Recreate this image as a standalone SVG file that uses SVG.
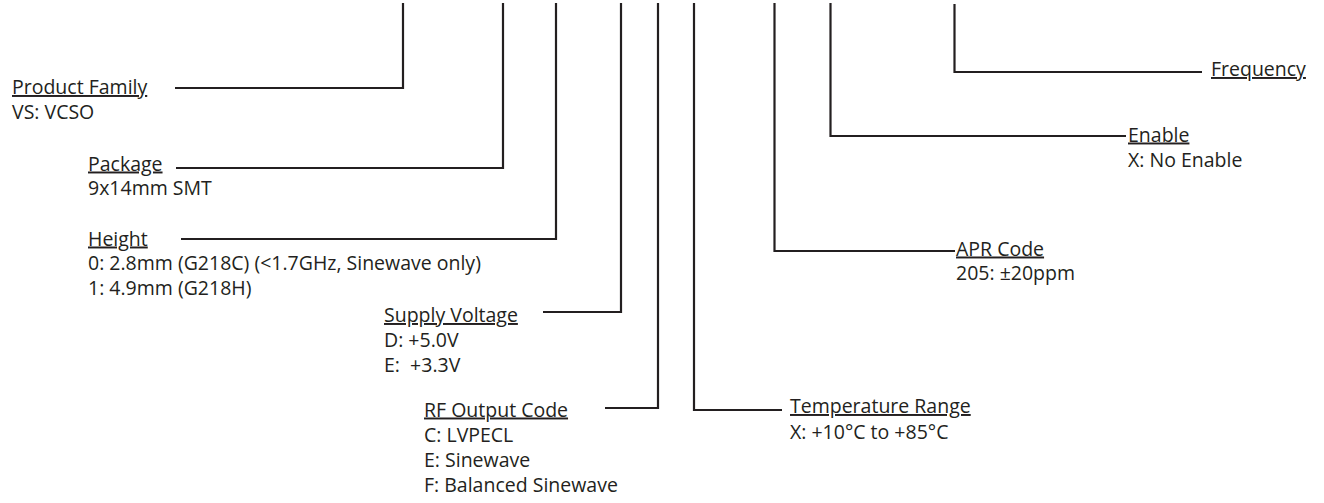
<svg xmlns="http://www.w3.org/2000/svg" width="1324" height="503" viewBox="0 0 1324 503">
<style>
text{font-family:"Open Sans","Liberation Sans",sans-serif;font-size:19.5px;fill:#231f20}
.h{text-decoration:underline}
.c{fill:none;stroke:#231f20;stroke-width:2.2}
</style>
<rect width="1324" height="503" fill="#fff"/>
<g id="connectors">
<path class="c" d="M175,88 H403 V3"/>
<path class="c" d="M176,168 H503 V3"/>
<path class="c" d="M181,239 H556 V3"/>
<path class="c" d="M543,312 H621 V3"/>
<path class="c" d="M605,408 H658 V3"/>
<path class="c" d="M694,3 V410 H782"/>
<path class="c" d="M774.5,3 V251 H955"/>
<path class="c" d="M830.5,3 V136 H1126"/>
<path class="c" d="M954.5,4 V72 H1202"/>
</g>
<g id="product-family"><text x="12" y="94"><tspan class="h">Product Family</tspan><tspan x="12" y="119">VS: VCSO</tspan></text></g>
<g id="package"><text x="88" y="170.5"><tspan class="h">Package</tspan><tspan x="88" y="195">9x14mm SMT</tspan></text></g>
<g id="height"><text x="88" y="245.5"><tspan class="h">Height</tspan><tspan x="88" y="270">0: 2.8mm (G218C) (&lt;1.7GHz, Sinewave only)</tspan><tspan x="88" y="294.5">1: 4.9mm (G218H)</tspan></text></g>
<g id="supply-voltage"><text x="384" y="322"><tspan class="h">Supply Voltage</tspan><tspan x="384" y="347">D: +5.0V</tspan><tspan x="384" y="371.5">E:&#160; +3.3V</tspan></text></g>
<g id="rf-output"><text x="424" y="416.5"><tspan class="h">RF Output Code</tspan><tspan x="424" y="442">C: LVPECL</tspan><tspan x="424" y="467">E: Sinewave</tspan><tspan x="424" y="492">F: Balanced Sinewave</tspan></text></g>
<g id="temperature"><text x="790" y="413"><tspan class="h">Temperature Range</tspan><tspan x="790" y="438.5">X: +10°C to +85°C</tspan></text></g>
<g id="apr"><text x="956" y="255.5"><tspan class="h">APR Code</tspan><tspan x="956" y="280">205: ±20ppm</tspan></text></g>
<g id="enable"><text x="1128" y="141.5"><tspan class="h">Enable</tspan><tspan x="1128" y="166.5">X: No Enable</tspan></text></g>
<g id="frequency"><text x="1211" y="76"><tspan class="h">Frequency</tspan></text></g>
</svg>
